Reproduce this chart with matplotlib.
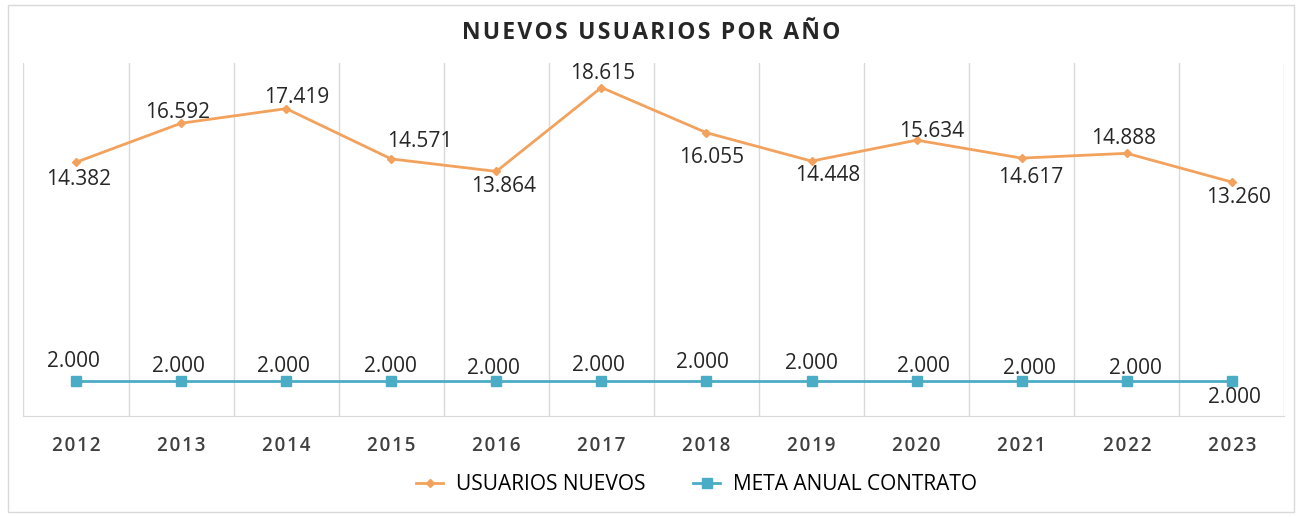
import matplotlib.pyplot as plt
from matplotlib.patches import Rectangle

years = ["2012", "2013", "2014", "2015", "2016", "2017",
         "2018", "2019", "2020", "2021", "2022", "2023"]
usuarios = [14382, 16592, 17419, 14571, 13864, 18615,
            16055, 14448, 15634, 14617, 14888, 13260]
meta = [2000] * 12

# label centre offsets from the point, in pixels (x right, y down)
usuarios_dx = [3, -3, 11, 29, 7, 1, 5, 16, 15, 9, -3, 7]
usuarios_dy = [15, -13, -13, -19, 13, -16, 23, 13, -11, 17, -17, 14]
meta_dx = [-3, -3, -3, -1, -3, -3, -4, 0, 7, 8, 9, 3]
meta_dy = [-21, -16, -16, -16, -14, -17, -20, -19, -16, -14, -14, 15]

ORANGE = "#F2A25C"
TEAL = "#4BACC6"
TXT = "#262626"

plt.rcParams['font.family'] = ['Open Sans', 'DejaVu Sans']


def fmt(v):
    return f"{v:,}".replace(",", ".")


def spaced(s, sep="\u200a"):
    # rough letter spacing
    return sep.join(s)


fig = plt.figure(figsize=(13.02, 5.17), dpi=100)
fig.patches.append(Rectangle((0.006, 0.01), 0.988, 0.98, transform=fig.transFigure,
                             fill=False, edgecolor="#D9D9D9", linewidth=1))
ax = fig.add_axes([0.018, 0.195, 0.9685, 0.683])

x = list(range(len(years)))
ax.plot(x, usuarios, color=ORANGE, linewidth=2, marker="D", markersize=4,
        label="USUARIOS NUEVOS")
ax.plot(x, meta, color=TEAL, linewidth=2, marker="s", markersize=7,
        label="META ANUAL CONTRATO")

half_digit = 7.4  # px, centre of digits to baseline
for vals, dxs, dys in [(usuarios, usuarios_dx, usuarios_dy), (meta, meta_dx, meta_dy)]:
    for i, v in enumerate(vals):
        ax.annotate(fmt(v), (i, v), xytext=(dxs[i], -(dys[i] + half_digit)),
                    textcoords="offset pixels", ha="center", va="baseline",
                    fontsize=15, color=TXT)

ax.set_xlim(-0.5, len(years) - 0.5)
ax.set_ylim(0, 20000)
ax.set_yticks([])
ax.set_xticks(x)
ax.set_xticklabels([spaced(y) for y in years], fontsize=13.5,
                   fontweight="semibold", color="#404040")
ax.tick_params(axis="x", length=0, pad=14)
for b in [i - 0.5 for i in range(len(years) + 1)]:
    ax.axvline(b, color="#D9D9D9", linewidth=1, zorder=0)
for s in ["top", "left", "right"]:
    ax.spines[s].set_visible(False)
ax.spines["bottom"].set_color("#D9D9D9")

fig.text(0.5, 0.937, spaced("NUEVOS USUARIOS POR AÑO"), ha="center", va="center",
         fontsize=16.5, fontweight="bold", color=TXT)
fig.legend(loc="center", bbox_to_anchor=(0.535, 0.062), ncol=2, frameon=False,
           fontsize=15, columnspacing=2.3, handlelength=1.3, handletextpad=0.6)

fig.savefig("out.png", dpi=100)
